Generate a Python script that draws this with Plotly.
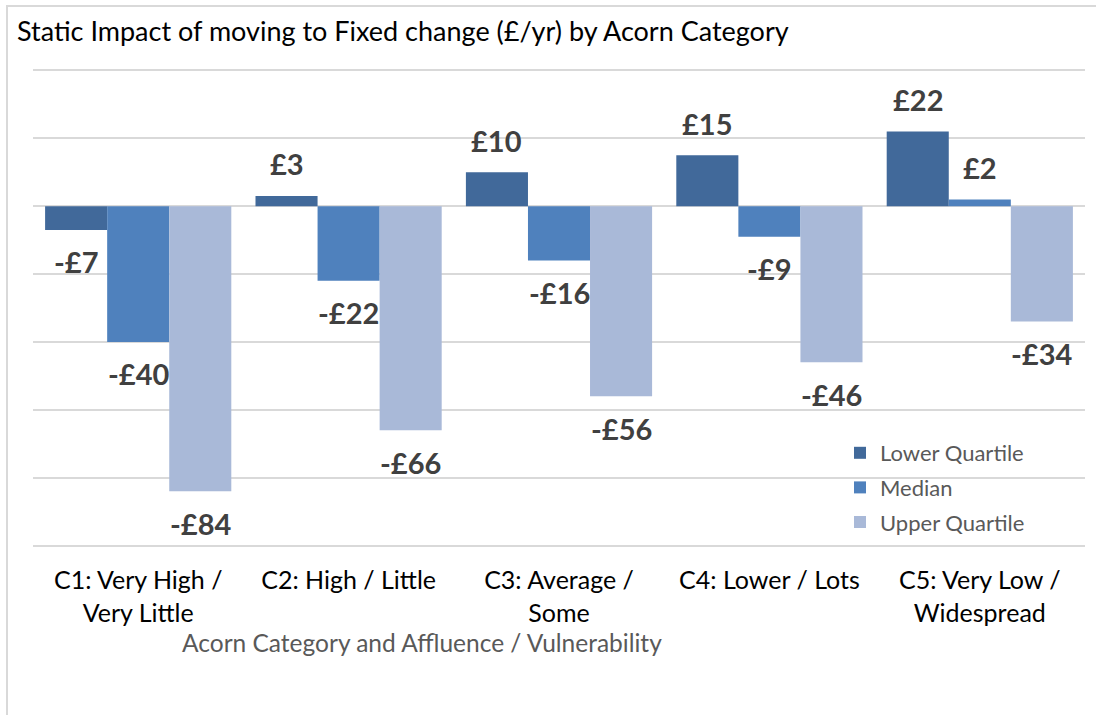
import plotly.graph_objects as go

categories = ["C1: Very High /<br>Very Little", "C2: High / Little", "C3: Average /<br>Some",
              "C4: Lower / Lots", "C5: Very Low /<br>Widespread"]
series_names = ["Lower Quartile", "Median", "Upper Quartile"]
lower_quartile = [-7, 3, 10, 15, 22]
median = [-40, -22, -16, -9, 2]
upper_quartile = [-84, -66, -56, -46, -34]
colors = ["#41699A", "#4F81BD", "#A9B9D8"]

FONT = "Lato"
series = [lower_quartile, median, upper_quartile]
n_cat = len(categories)
x_idx = list(range(n_cat))
w = 0.295

L, R, T, B = 33, 11, 67, 166
W, H = 1096, 715
pw, ph = W - L - R, H - T - B
def px(xp):
    return (xp - L) / pw
def py(yp):
    return (H - B - yp) / ph

def fmt(v):
    return f"-£{abs(v)}" if v < 0 else f"£{v}"

fig = go.Figure()
annotations = []
for k, (name, vals, col) in enumerate(zip(series_names, series, colors)):
    fig.add_trace(go.Bar(
        x=x_idx, y=vals, name=name, marker=dict(color=col, line=dict(width=0)),
        width=w, offset=-1.5 * w + k * w, legendgroup=name,
    ))
    for i, v in enumerate(vals):
        annotations.append(dict(
            x=i + (k - 1) * w, y=v, xref="x", yref="y", text=fmt(v), showarrow=False,
            yshift=32 if v > 0 else -32,
            font=dict(family=FONT, size=29, color="#404040", weight="bold"),
        ))

annotations.append(dict(
    x=px(422), y=py(642), xref="paper", yref="paper", xanchor="center", yanchor="middle",
    text="Acorn Category and Affluence / Vulnerability",
    showarrow=False, font=dict(family=FONT, size=24.5, color="#595959"),
))

fig.update_layout(
    width=W, height=H,
    margin=dict(l=L, r=R, t=T, b=B),
    paper_bgcolor="white", plot_bgcolor="white",
    barmode="overlay",
    title=dict(text="Static Impact of moving to Fixed change (£/yr) by Acorn Category",
               x=17 / W, xanchor="left", y=1 - 32 / H, yanchor="middle",
               font=dict(family=FONT, size=27, color="#000000")),
    xaxis=dict(tickvals=x_idx, ticktext=categories, range=[-0.5, n_cat - 0.5],
               showgrid=False, zeroline=False, showline=False, ticks="",
               ticklabelstandoff=14,
               tickfont=dict(family=FONT, size=25, color="#000000")),
    yaxis=dict(range=[-101, 41], dtick=20, tick0=0, showticklabels=False,
               showgrid=True, gridcolor="#D9D9D9", gridwidth=1.5,
               zeroline=True, zerolinecolor="#D9D9D9", zerolinewidth=1.5, showline=False),
    legend=dict(x=px(840), y=py(432), xanchor="left", yanchor="top",
                bgcolor="rgba(0,0,0,0)", font=dict(family=FONT, size=22, color="#595959"),
                traceorder="grouped", tracegroupgap=3, itemwidth=30),
    annotations=annotations,
    shapes=[dict(type="rect", xref="paper", yref="paper", x0=px(7), x1=px(1200),
                 y0=py(900), y1=py(6), line=dict(color="#D9D9D9", width=2),
                 fillcolor="rgba(0,0,0,0)", layer="below")],
)
fig.write_html("out.html", post_script="document.body.style.margin='0';",
               config={"displayModeBar": False})
